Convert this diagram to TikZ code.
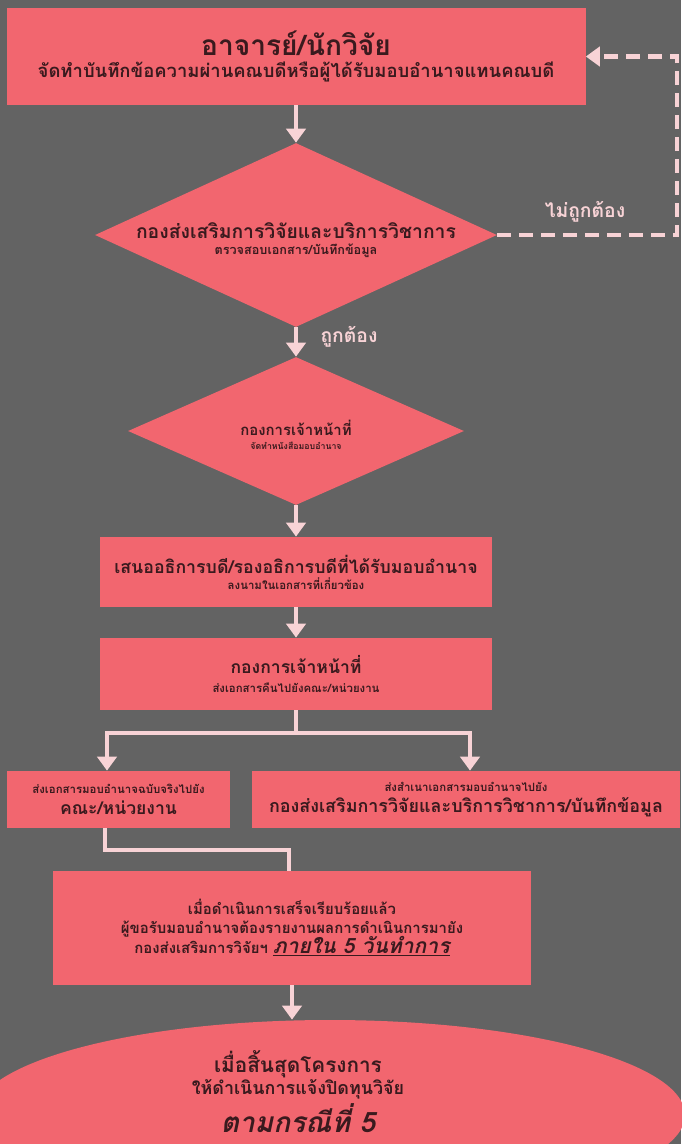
\documentclass[tikz,border=0pt]{standalone}
\usepackage{fontspec}
\newfontfamily\thai[Script=Thai, BoldFont={Loma Bold}, ItalicFont={Loma Oblique}, BoldItalicFont={Loma Bold Oblique}]{Loma}
\usetikzlibrary{positioning,shapes.geometric,arrows.meta,calc}

\definecolor{bggray}{HTML}{636363}
\definecolor{boxred}{HTML}{F2666F}
\definecolor{linkpink}{HTML}{F8D3D6}
\definecolor{inkdark}{HTML}{3A1A1E}

\newdimen\px \px=0.02cm
\newcommand\sztitle{\fontsize{16}{19}\selectfont}
\newcommand\szhead{\fontsize{11}{14}\selectfont}
\newcommand\szlead{\fontsize{10.2}{13}\selectfont}
\newcommand\szsub{\fontsize{10.5}{13}\selectfont}
\newcommand\szmid{\fontsize{8.5}{11}\selectfont}
\newcommand\szsmall{\fontsize{6.5}{8}\selectfont}
\newcommand\szbig{\fontsize{12}{15}\selectfont}

\begin{document}
\begin{tikzpicture}[
		x=0.02cm, y=-0.02cm,
		stepbox/.style={rectangle, fill=boxred, text=inkdark, align=center, inner sep=0pt, font=\thai\bfseries},
		checkbox/.style={diamond, fill=boxred, inner sep=0pt},
		endoval/.style={ellipse, fill=boxred, inner sep=0pt},
		inside/.style={text=inkdark, align=center, font=\thai\bfseries},
		link/.style={draw=linkpink, line width=2.3pt},
		arr/.style={link, -{Triangle[width=11pt,length=8pt]}},
		noteline/.style={text=linkpink, font=\thai\bfseries\szhead}
	]

	\fill[bggray] (0,0) rectangle (681,1144);
	\useasboundingbox (0,0) rectangle (681,1144);

	% main steps
	\node[stepbox, minimum width=579\px, minimum height=97\px] (teacher) at (296,56.5)
	{{\sztitle อาจารย์/นักวิจัย}\\[1pt]{\szsub จัดทำบันทึกข้อความผ่านคณบดีหรือผู้ได้รับมอบอำนาจแทนคณบดี}};
	\node[checkbox, minimum width=402\px, minimum height=184\px,
		label={[inside, yshift=-5\px]center:{{\szhead กองส่งเสริมการวิจัยและบริการวิชาการ}\\[-3pt]{\fontsize{7.2}{9}\selectfont ตรวจสอบเอกสาร/บันทึกข้อมูล}}}] (checkdoc) at (296,235) {};
	\node[checkbox, minimum width=336\px, minimum height=148\px,
		label={[inside, yshift=-4\px]center:{{\szmid กองการเจ้าหน้าที่}\\[-4pt]{\fontsize{5}{6}\selectfont จัดทำหนังสือมอบอำนาจ}}}] (hrone) at (296,431) {};
	\node[stepbox, minimum width=392\px, minimum height=70\px] (sign) at (296,572)
	{{\fontsize{10.1}{13}\selectfont เสนออธิการบดี/รองอธิการบดีที่ได้รับมอบอำนาจ}\\[-3pt]{\szsmall ลงนามในเอกสารที่เกี่ยวข้อง}};
	\node[stepbox, minimum width=392\px, minimum height=72\px] (hrtwo) at (296,674)
	{{\fontsize{10}{13}\selectfont กองการเจ้าหน้าที่}\\[-1pt]{\szsmall ส่งเอกสารคืนไปยังคณะ/หน่วยงาน}};
	\node[stepbox, minimum width=223\px, minimum height=57\px] (faculty) at (118.5,799.5)
	{{\szsmall ส่งเอกสารมอบอำนาจฉบับจริงไปยัง}\\[0pt]{\fontsize{10}{13}\selectfont คณะ/หน่วยงาน}};
	\node[stepbox, minimum width=428\px, minimum height=57\px] (copyto) at (466,799.5)
	{{\szsmall ส่งสำเนาเอกสารมอบอำนาจไปยัง}\\[0pt]{\szlead กองส่งเสริมการวิจัยและบริการวิชาการ/บันทึกข้อมูล}};
	\node[stepbox, minimum width=478\px, minimum height=114\px] (report) at (292,928)
	{{\szmid เมื่อดำเนินการเสร็จเรียบร้อยแล้ว}\\[-1pt]{\szmid ผู้ขอรับมอบอำนาจต้องรายงานผลการดำเนินการมายัง}\\[-1pt]{\szmid กองส่งเสริมการวิจัยฯ \underline{\itshape\szbig ภายใน 5 วันทำการ}}};
	\node[endoval, minimum width=710\px, minimum height=190\px,
		label={[inside, xshift=-32\px, yshift=23\px]center:{{\fontsize{11.8}{14}\selectfont เมื่อสิ้นสุดโครงการ}\\[0pt]{\fontsize{10.2}{13}\selectfont ให้ดำเนินการแจ้งปิดทุนวิจัย}\\[2pt]{\itshape\sztitle ตามกรณีที่ 5}}}] (closing) at (330,1115) {};

	% decisions
	\node[noteline] (right) at (349,337) {ถูกต้อง};
	\node[noteline] (wrong) at (585,212) {ไม่ถูกต้อง};
	\coordinate (loop) at (677,235);
	\coordinate (split) at (296,733);

	% connectors
	\draw[arr] (teacher.south) -- (checkdoc.north);
	\draw[arr] (checkdoc.south) -- (hrone.north);
	\draw[arr] (hrone.south) -- (sign.north);
	\draw[arr] (sign.south) -- (hrtwo.north);
	\draw[link] (hrtwo.south) -- (split);
	\draw[arr] (split) -| ([xshift=-11.5\px]faculty.north);
	\draw[arr] (split) -| ([xshift=4\px]copyto.north);
	\draw[link] ([xshift=-13.5\px]faculty.south) -- ++(0,22) -| ([xshift=-3\px]report.north);
	\draw[arr] (report.south) -- (report.south |- closing.north);
	\draw[arr, dash pattern=on 8pt off 4.5pt] (checkdoc.east) -- (loop) |- (teacher.east);
\end{tikzpicture}
\end{document}
